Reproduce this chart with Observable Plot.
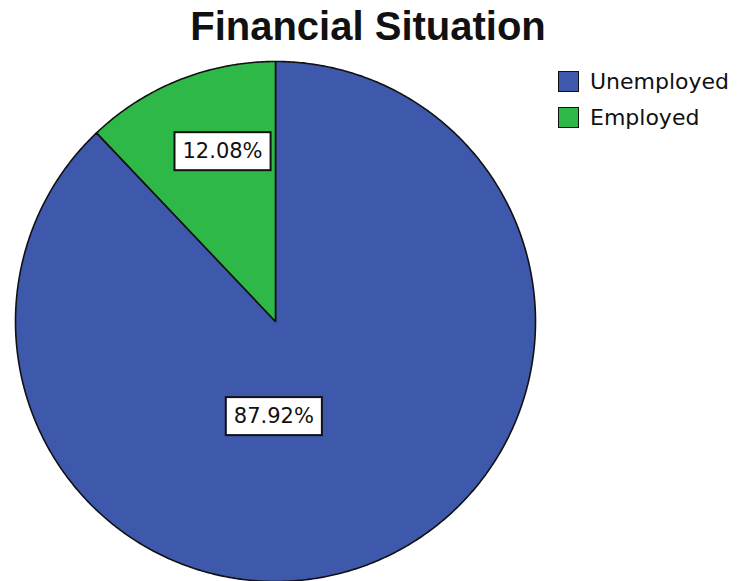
<!DOCTYPE html>
<html>
<head>
<meta charset="utf-8">
<script src="https://cdn.jsdelivr.net/npm/d3@7"></script>
<script src="https://cdn.jsdelivr.net/npm/@observablehq/plot@0.6"></script>
<style>
  html, body { margin: 0; padding: 0; background: #fff; }
  #wrap { position: relative; width: 740px; height: 581px; overflow: hidden; }
  #title { position: absolute; left: 0; width: 736px; top: 4px; text-align: center;
           font-family: "Liberation Sans", Arial, sans-serif; font-weight: bold; font-size: 40px; color: #111; }
  #legend { position: absolute; left: 558px; top: 63px; font-family: "DejaVu Sans", sans-serif; font-size: 22px; color: #111; }
  .item { display: flex; align-items: center; height: 36px; }
  .sw { width: 19px; height: 19px; border: 1.8px solid #111; margin-right: 11px; box-sizing: content-box; }
  #chart { position: absolute; left: 0; top: 0; }
</style>
</head>
<body>
<div id="wrap">
  <div id="chart"></div>
  <div id="title">Financial Situation</div>
  <div id="legend"></div>
</div>
<script>
// ---- data ----
const categories = ["Unemployed", "Employed"];
const percents = [87.92, 12.08];
const colors = ["#3e58ac", "#2eb848"];
const labels = ["87.92%", "12.08%"];

// ---- layout options (not data) ----
const cx = 275, cy = 321, R = 260;
const labelPlace = { Unemployed: { r: 0.365, deg: 181 }, Employed: { r: 0.685, deg: -17.3 } };

// build slice outlines (clockwise from 12 o'clock)
const total = d3.sum(percents);
const slicePts = [];
let start = 0;
categories.forEach((c, i) => {
  const span = percents[i] / total * 360;
  const end = start + span;
  slicePts.push({ cat: c, x: 0, y: 0 });
  const n = Math.max(2, Math.ceil(span * 2));
  for (let k = 0; k <= n; k++) {
    const a = (start + span * k / n) * Math.PI / 180;
    slicePts.push({ cat: c, x: Math.sin(a), y: Math.cos(a) });
  }
  slicePts.push({ cat: c, x: 0, y: 0 });
  start = end;
});

const labelData = categories.map((c, i) => {
  const p = labelPlace[c];
  const a = p.deg * Math.PI / 180;
  return { cat: c, text: labels[i], x: p.r * Math.sin(a), y: p.r * Math.cos(a) };
});

const chart = Plot.plot({
  width: 740,
  height: 581,
  x: { domain: [-1, 1], range: [cx - R, cx + R], axis: null },
  y: { domain: [-1, 1], range: [cy + R, cy - R], axis: null },
  color: { domain: categories, range: colors },
  style: { background: "transparent", overflow: "visible" },
  marks: [
    Plot.line(slicePts, { x: "x", y: "y", z: "cat", fill: "cat", stroke: "#111", strokeWidth: 1.6, strokeLinejoin: "round" }),
    Plot.text(labelData, { x: "x", y: "y", text: "text", fontSize: 21, fontFamily: "DejaVu Sans", fill: "#111", className: "pct-label" })
  ]
});
document.getElementById("chart").appendChild(chart);

// white boxes behind the percentage labels
chart.querySelectorAll(".pct-label text").forEach(t => {
  const b = t.getBBox();
  const padX = 8, padY = 7;
  const rect = document.createElementNS("http://www.w3.org/2000/svg", "rect");
  rect.setAttribute("x", b.x - padX);
  rect.setAttribute("y", b.y - padY);
  rect.setAttribute("width", b.width + 2 * padX);
  rect.setAttribute("height", b.height + 2 * padY);
  rect.setAttribute("fill", "#fff");
  rect.setAttribute("stroke", "#111");
  rect.setAttribute("stroke-width", 2);
  if (t.getAttribute("transform")) rect.setAttribute("transform", t.getAttribute("transform"));
  t.parentNode.insertBefore(rect, t);
});

// legend
const leg = d3.select("#legend");
categories.forEach((c, i) => {
  const it = leg.append("div").attr("class", "item");
  it.append("div").attr("class", "sw").style("background", colors[i]);
  it.append("span").text(c);
});
</script>
</body>
</html>
